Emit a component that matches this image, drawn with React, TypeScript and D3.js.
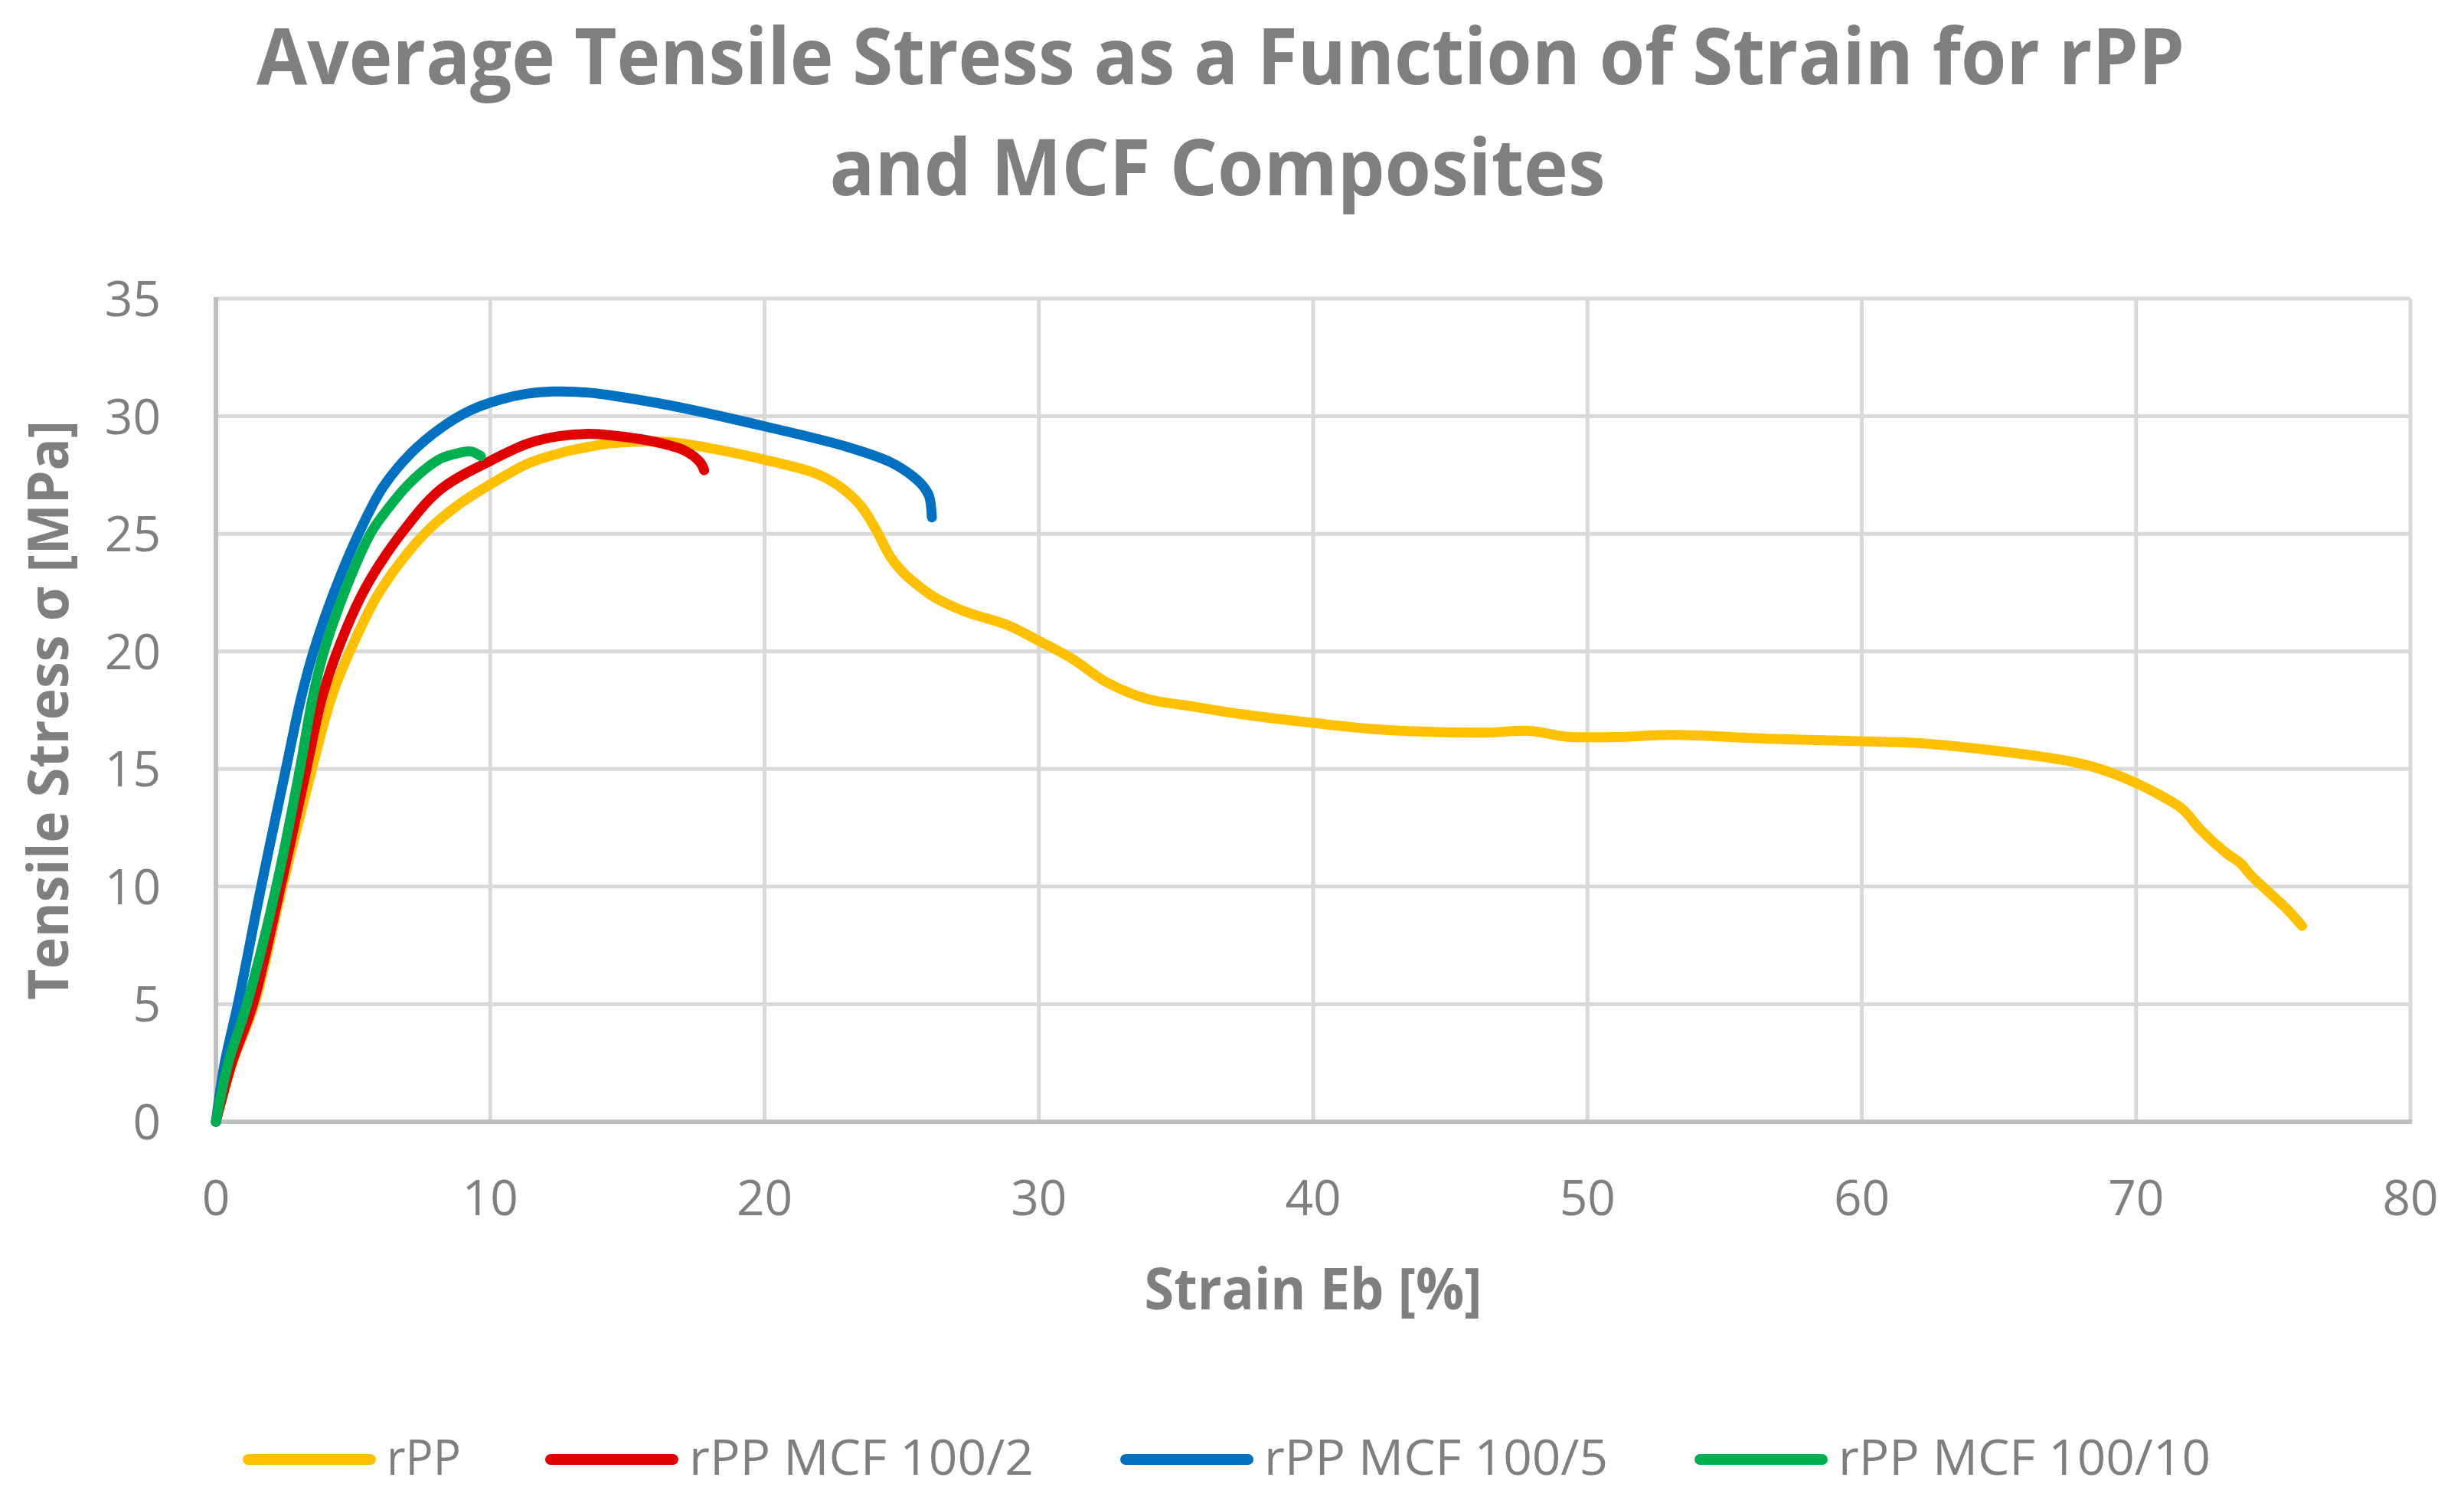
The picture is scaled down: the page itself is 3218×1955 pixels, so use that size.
import React from "react";
import * as d3 from "d3";

// ---------- data ----------
const seriesNames = ["rPP", "rPP MCF 100/2", "rPP MCF 100/5", "rPP MCF 100/10"];
const seriesColors = ["#FFC000", "#E00000", "#0070C0", "#00B050"];

const rppStrain = [0, 0.6, 1.4, 2.42, 3.5, 4.2, 4.88, 5.95, 7.6, 8.8, 10, 11.4, 12.6, 13.6, 14.5, 16.5, 18.2, 20, 21.9, 22.8, 23.5, 24.05, 24.6, 25.1, 25.6, 26.2, 27.3, 28.9, 30, 31.2, 32.45, 33.9, 35.65, 37.4, 40, 42.75, 46.3, 47.9, 49.2, 51, 53.2, 56.55, 60, 62.1, 64.35, 66.6, 67.8, 68.9, 70, 71.04, 71.7, 72.35, 73.27, 73.8, 74.2, 74.8, 75.5, 76.05];
const rppStress = [0, 2.5, 5, 10, 15, 18, 20, 22.5, 25, 26.2, 27.1, 28.0, 28.45, 28.7, 28.86, 28.9, 28.6, 28.15, 27.55, 26.96, 26.2, 25.2, 24.0, 23.3, 22.8, 22.3, 21.7, 21.1, 20.45, 19.7, 18.7, 18.0, 17.65, 17.33, 16.96, 16.65, 16.55, 16.62, 16.38, 16.36, 16.45, 16.29, 16.18, 16.1, 15.85, 15.52, 15.28, 14.92, 14.4, 13.78, 13.29, 12.42, 11.44, 11.0, 10.46, 9.8, 9.04, 8.33];

const mcf2Strain = [0, 0.58, 1.35, 2.36, 3.3, 3.86, 4.42, 5.45, 6.75, 8.2, 10, 11.4, 12.5, 13.6, 14.45, 16.05, 17.1, 17.65, 17.8];
const mcf2Stress = [0, 2.5, 5, 10, 15, 18, 20, 22.7, 25, 26.9, 28.1, 28.85, 29.15, 29.25, 29.18, 28.9, 28.53, 28.04, 27.7];

const mcf5Strain = [0, 0.32, 0.8, 1.65, 2.55, 3.1, 3.56, 4.3, 5.2, 6.1, 7.13, 8.2, 9.28, 10.35, 11.3, 12.3, 13.6, 14.6, 16.6, 20, 23, 24.6, 25.4, 25.8, 26.0, 26.1];
const mcf5Stress = [0, 2.5, 5, 10, 15, 18, 20, 22.5, 25, 27.0, 28.45, 29.5, 30.25, 30.7, 30.95, 31.05, 31.0, 30.85, 30.45, 29.57, 28.7, 28.04, 27.45, 27.0, 26.6, 25.7];

const mcf10Strain = [0, 0.45, 1.13, 2.2, 3.06, 3.52, 3.94, 4.75, 5.63, 6.06, 7.1, 8.2, 8.9, 9.3, 9.66];
const mcf10Stress = [0, 2.5, 5, 10, 15, 18, 20, 22.7, 25, 25.75, 27.2, 28.2, 28.45, 28.5, 28.3];

const xTicks = [0, 10, 20, 30, 40, 50, 60, 70, 80];
const yTicks = [0, 5, 10, 15, 20, 25, 30, 35];

const titleLines = ["Average Tensile Stress as a Function of Strain for rPP", "and MCF Composites"];
const xTitle = "Strain Eb [%]";
const yTitle = "Tensile Stress σ [MPa]";

// ---------- layout ----------
const W = 3218;
const H = 1955;
const left = 282, right = 3148, top = 390, bottom = 1465;
const textColor = "#7F7F7F";
const font = "'Open Sans', 'Liberation Sans', sans-serif";

const legendStarts = [317, 712, 1463, 2213];
const legendTextLen = [97, 450, 449, 486];

export default function App() {
  const x = d3.scaleLinear().domain([0, 80]).range([left, right]);
  const y = d3.scaleLinear().domain([0, 35]).range([bottom, top]);

  const series = [
    { xs: rppStrain, ys: rppStress },
    { xs: mcf2Strain, ys: mcf2Stress },
    { xs: mcf5Strain, ys: mcf5Stress },
    { xs: mcf10Strain, ys: mcf10Stress },
  ];

  const line = d3
    .line<[number, number]>()
    .x((d) => x(d[0]))
    .y((d) => y(d[1]))
    .curve(d3.curveCatmullRom.alpha(0.5));

  return (
    <div style={{ position: "absolute", left: 0, top: 0 }}>
      <svg width={W} height={H} viewBox={`0 0 ${W} ${H}`} style={{ display: "block", background: "#fff" }}>
        <rect x={0} y={0} width={W} height={H} fill="#fff" />
        {/* title */}
        <text x={1594} y={110} textAnchor="middle" fontFamily={font} fontWeight={700} fontSize={103} fill={textColor}
          textLength={2518} lengthAdjust="spacingAndGlyphs">{titleLines[0]}</text>
        <text x={1590} y={255} textAnchor="middle" fontFamily={font} fontWeight={700} fontSize={103} fill={textColor}
          textLength={1013} lengthAdjust="spacingAndGlyphs">{titleLines[1]}</text>

        {/* gridlines */}
        {yTicks.filter((t) => t > 0).map((t) => (
          <line key={"gy" + t} x1={left} x2={right} y1={y(t)} y2={y(t)} stroke="#D9D9D9" strokeWidth={5} />
        ))}
        {xTicks.filter((t) => t > 0).map((t) => (
          <line key={"gx" + t} x1={x(t)} x2={x(t)} y1={top} y2={bottom} stroke="#D9D9D9" strokeWidth={5} />
        ))}
        {/* axes */}
        <line x1={left} x2={left} y1={top - 2} y2={bottom} stroke="#BFBFBF" strokeWidth={6} />
        <line x1={left - 3} x2={right + 2} y1={bottom} y2={bottom} stroke="#BFBFBF" strokeWidth={6} />

        {/* tick labels */}
        {yTicks.map((t) => (
          <text key={"ty" + t} x={210} y={y(t) + 23} textAnchor="end" fontFamily={font} fontSize={64} fill={textColor}>{t}</text>
        ))}
        {xTicks.map((t) => (
          <text key={"tx" + t} x={x(t)} y={1587} textAnchor="middle" fontFamily={font} fontSize={64} fill={textColor}>{t}</text>
        ))}

        {/* axis titles */}
        <text x={(left + right) / 2} y={1710} textAnchor="middle" fontFamily={font} fontWeight={700} fontSize={76} fill={textColor}
          textLength={441} lengthAdjust="spacingAndGlyphs">{xTitle}</text>
        <text transform={`translate(89, ${(top + bottom) / 2}) rotate(-90)`} textAnchor="middle" fontFamily={font} fontWeight={700}
          fontSize={74} fill={textColor} textLength={757} lengthAdjust="spacingAndGlyphs">{yTitle}</text>

        {/* series */}
        {series.map((s, i) => (
          <path key={"s" + i} d={line(s.xs.map((v, j) => [v, s.ys[j]] as [number, number])) || ""} fill="none"
            stroke={seriesColors[i]} strokeWidth={13} strokeLinecap="round" strokeLinejoin="round" />
        ))}

        {/* legend */}
        {seriesNames.map((n, i) => {
          const sx = legendStarts[i];
          return (
            <g key={"l" + i}>
              <line x1={sx + 7} x2={sx + 167} y1={1906} y2={1906} stroke={seriesColors[i]} strokeWidth={14} strokeLinecap="round" />
              <text x={sx + 188} y={1926} fontFamily={font} fontSize={64} fill={textColor}
                textLength={legendTextLen[i]} lengthAdjust="spacingAndGlyphs">{n}</text>
            </g>
          );
        })}
      </svg>
    </div>
  );
}
